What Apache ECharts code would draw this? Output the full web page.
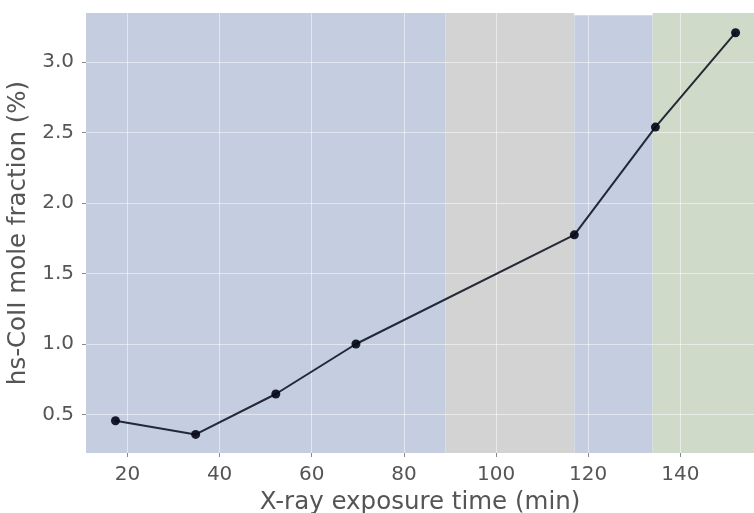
<!DOCTYPE html>
<html>
<head>
<meta charset="utf-8">
<script src="https://cdn.jsdelivr.net/npm/echarts@6/dist/echarts.min.js"></script>
<style>
html,body{margin:0;padding:0;background:#fff;}
#chart{width:754px;height:513px;}
</style>
</head>
<body>
<div id="chart"></div>
<script>
// Data
const exposureTimes = [17.4, 34.8, 52.2, 69.6, 117.0, 134.6, 152.0];
const moleFractions = [0.455, 0.358, 0.645, 1.0, 1.775, 2.54, 3.21];
const xTicks = [20, 40, 60, 80, 100, 120, 140];
const yTicks = [0.5, 1.0, 1.5, 2.0, 2.5, 3.0];
// shaded phases: [start, end, colour]
const phaseStarts = [11, 89, 117, 134];
const phaseEnds = [89, 117, 134, 156];
const phaseColors = ['#c5cde0', '#d3d3d3', '#c5cde0', '#cfdbc8'];
const xRange = [11, 156];
const yRange = [0.226, 3.35];

const chart = echarts.init(document.getElementById('chart'), null, {renderer: 'canvas'});
const font = 'DejaVu Sans';
const points = exposureTimes.map((x, i) => [x, moleFractions[i]]);
const areas = phaseStarts.map((s, i) => {
  const lo = i === 2 ? 0.212 : yRange[0];
  const hi = i === 2 ? 3.334 : yRange[1];
  return [
    {xAxis: s, yAxis: lo, itemStyle: {color: phaseColors[i], opacity: 1}},
    {xAxis: phaseEnds[i], yAxis: hi}
  ];
});

chart.setOption({
  animation: false,
  backgroundColor: '#ffffff',
  grid: {left: 86, right: 0, top: 13, bottom: 60, containLabel: false, outerBoundsMode: 'none'},
  xAxis: {
    type: 'value',
    min: xRange[0], max: xRange[1],
    z: 3,
    name: 'X-ray exposure time (min)',
    nameLocation: 'middle',
    nameGap: 35,
    nameTextStyle: {fontFamily: font, fontSize: 24.5, color: '#555555'},
    axisLine: {show: false},
    axisTick: {show: true, length: 4, customValues: xTicks, lineStyle: {color: '#888888', width: 1}},
    axisLabel: {customValues: xTicks, fontFamily: font, fontSize: 20, color: '#555555', margin: 12},
    splitLine: {show: true, lineStyle: {color: 'rgba(255,255,255,0.5)', width: 1}}
  },
  yAxis: {
    type: 'value',
    min: yRange[0], max: yRange[1],
    z: 3,
    name: 'hs-CoII mole fraction (%)',
    nameLocation: 'middle',
    nameRotate: 90,
    nameGap: 48,
    nameTextStyle: {fontFamily: font, fontSize: 24.5, color: '#555555'},
    axisLine: {show: false},
    axisTick: {show: true, length: 4, customValues: yTicks, lineStyle: {color: '#888888', width: 1}},
    axisLabel: {customValues: yTicks, fontFamily: font, fontSize: 20, color: '#555555', margin: 12,
      formatter: v => v.toFixed(1)},
    splitLine: {show: true, lineStyle: {color: 'rgba(255,255,255,0.5)', width: 1}}
  },
  series: [
    {
      type: 'line',
      data: [],
      z: 1,
      silent: true,
      markArea: {silent: true, data: areas}
    },
    {
      type: 'line',
      data: points,
      z: 5,
      symbol: 'circle',
      symbolSize: 9,
      lineStyle: {color: 'rgba(5,10,25,0.85)', width: 2},
      itemStyle: {color: 'rgba(5,10,25,0.92)', borderWidth: 0}
    }
  ]
});
</script>
</body>
</html>
